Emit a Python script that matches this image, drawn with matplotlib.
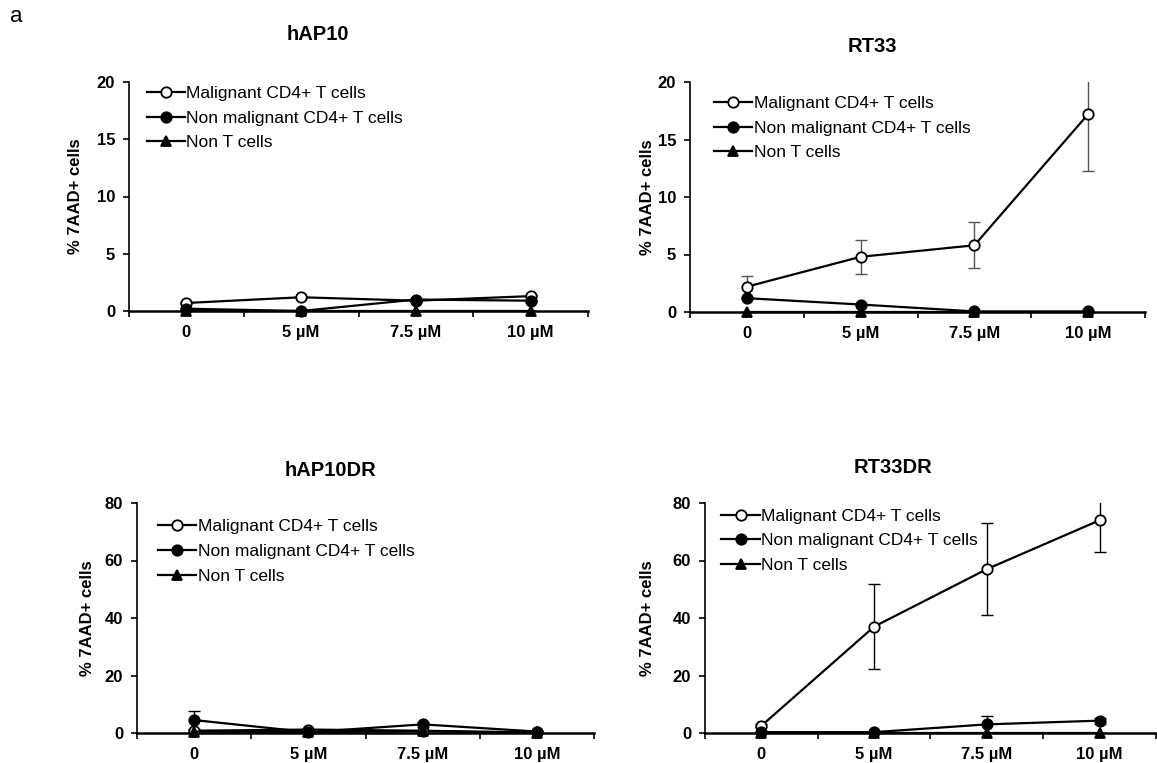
import matplotlib
matplotlib.use("Agg")
import matplotlib.pyplot as plt
import numpy as np

plt.rcParams['font.family'] = ['Liberation Sans', 'DejaVu Sans']

categories = ["0", "5 µM", "7.5 µM", "10 µM"]
series_names = ["Malignant CD4+ T cells", "Non malignant CD4+ T cells", "Non T cells"]

# hAP10
hap10_mal = [0.7, 1.2, 0.9, 1.3]
hap10_mal_err = [0.1, 0.1, 0.1, 0.1]
hap10_non = [0.2, 0.0, 1.0, 0.9]
hap10_non_err = [0.1, 0.0, 0.1, 0.1]
hap10_nt = [0.0, 0.0, 0.0, 0.0]
hap10_nt_err = [0.0, 0.0, 0.0, 0.0]

# RT33
rt33_mal = [2.2, 4.8, 5.8, 17.2]
rt33_mal_err = [0.9, 1.5, 2.0, 4.9]
rt33_non = [1.2, 0.65, 0.05, 0.05]
rt33_non_err = [0.0, 0.0, 0.0, 0.0]
rt33_nt = [0.0, 0.0, 0.0, 0.0]
rt33_nt_err = [0.0, 0.0, 0.0, 0.0]

# hAP10DR
hap10dr_mal = [0.8, 1.2, 0.8, 0.2]
hap10dr_mal_err = [0.3, 0.3, 0.3, 0.1]
hap10dr_non = [4.5, 0.3, 3.0, 0.5]
hap10dr_non_err = [3.0, 0.2, 0.8, 0.2]
hap10dr_nt = [0.5, 0.3, 0.6, 0.0]
hap10dr_nt_err = [0.0, 0.0, 0.0, 0.0]

# RT33DR
rt33dr_mal = [2.5, 37.0, 57.0, 74.0]
rt33dr_mal_err = [0.5, 14.7, 16.0, 11.0]
rt33dr_non = [0.3, 0.3, 3.0, 4.3]
rt33dr_non_err = [0.1, 0.1, 3.0, 1.0]
rt33dr_nt = [0.0, 0.0, 0.0, 0.0]
rt33dr_nt_err = [0.0, 0.0, 0.0, 0.0]

panels = [
    dict(title="hAP10", ymax=20, yticks=[0, 5, 10, 15, 20],
         data=[(hap10_mal, hap10_mal_err), (hap10_non, hap10_non_err), (hap10_nt, hap10_nt_err)],
         pos=[129/1157, 1-311/763, 459/1157, 229/763], title_xy=(318, 35), ecolor='black',
         ylab_x=76, leg=(0.023, 1.014)),
    dict(title="RT33", ymax=20, yticks=[0, 5, 10, 15, 20],
         data=[(rt33_mal, rt33_mal_err), (rt33_non, rt33_non_err), (rt33_nt, rt33_nt_err)],
         pos=[690/1157, 1-312/763, 455/1157, 230/763], title_xy=(872, 47), ecolor='#555555',
         ylab_x=648, leg=(0.037, 0.97)),
    dict(title="hAP10DR", ymax=80, yticks=[0, 20, 40, 60, 80],
         data=[(hap10dr_mal, hap10dr_mal_err), (hap10dr_non, hap10dr_non_err), (hap10dr_nt, hap10dr_nt_err)],
         pos=[137/1157, 1-733/763, 457/1157, 230/763], title_xy=(330, 470), ecolor='black',
         ylab_x=88, leg=(0.03, 0.96)),
    dict(title="RT33DR", ymax=80, yticks=[0, 20, 40, 60, 80],
         data=[(rt33dr_mal, rt33dr_mal_err), (rt33dr_non, rt33dr_non_err), (rt33dr_nt, rt33dr_nt_err)],
         pos=[705/1157, 1-733/763, 451/1157, 230/763], title_xy=(893, 467), ecolor='black',
         ylab_x=648, leg=(0.021, 1.006)),
]

markers = [dict(marker='o', mfc='white', mec='black'),
           dict(marker='o', mfc='black', mec='black'),
           dict(marker='^', mfc='black', mec='black')]

W, H = 1157, 763
fig = plt.figure(figsize=(W/100, H/100), dpi=100)
fig.text(10/W, 1-16/H, "a", fontsize=16, va='center', ha='left')

x = np.arange(len(categories)) + 0.5
for p in panels:
    ax = fig.add_axes(p['pos'])
    handles = []
    for (vals, errs), m, name in zip(p['data'], markers, series_names):
        ax.errorbar(x, vals, yerr=errs, fmt='none', ecolor=p['ecolor'], elinewidth=1.0,
                    capsize=4, capthick=1.0, zorder=2, clip_on=True)
        h, = ax.plot(x, vals, color='black', lw=1.6, markersize=7.5, mew=1.3,
                     zorder=3, clip_on=False, label=name, **m)
        handles.append(h)
    ax.set_xlim(0, 4)
    ax.set_ylim(0, p['ymax'])
    ax.set_yticks(p['yticks'])
    ax.set_xticks([0, 1, 2, 3, 4])
    ax.set_xticklabels([])
    ax.set_xticks(x, minor=True)
    ax.set_xticklabels(categories, minor=True)
    ax.tick_params(axis='x', which='minor', length=0, pad=10)
    ax.tick_params(axis='x', which='major', length=4, width=1.2, direction='out')
    ax.tick_params(axis='y', length=4, width=1.2, direction='out', pad=6)
    for lbl in ax.get_xticklabels(minor=True) + ax.get_yticklabels():
        lbl.set_fontweight('bold')
        lbl.set_fontsize(12)
    for s in ['top', 'right']:
        ax.spines[s].set_visible(False)
    ax.spines['left'].set_linewidth(1.2)
    ax.spines['bottom'].set_linewidth(1.8)
    ax.patch.set_alpha(0)
    leg = ax.legend(handles=handles, loc='upper left', bbox_to_anchor=p['leg'],
                    frameon=False, handlelength=2.2, handletextpad=0.1,
                    labelspacing=0.55, borderaxespad=0, prop=dict(size=12.5))
    fig.text(p['ylab_x']/W, (p['pos'][1] + p['pos'][3]/2), "% 7AAD+ cells",
             rotation=90, ha='center', va='center', fontsize=12, fontweight='bold')
    fig.text(p['title_xy'][0]/W, 1-p['title_xy'][1]/H, p['title'], ha='center', va='center',
             fontsize=14.5, fontweight='bold')

fig.savefig("out.png", dpi=100)
